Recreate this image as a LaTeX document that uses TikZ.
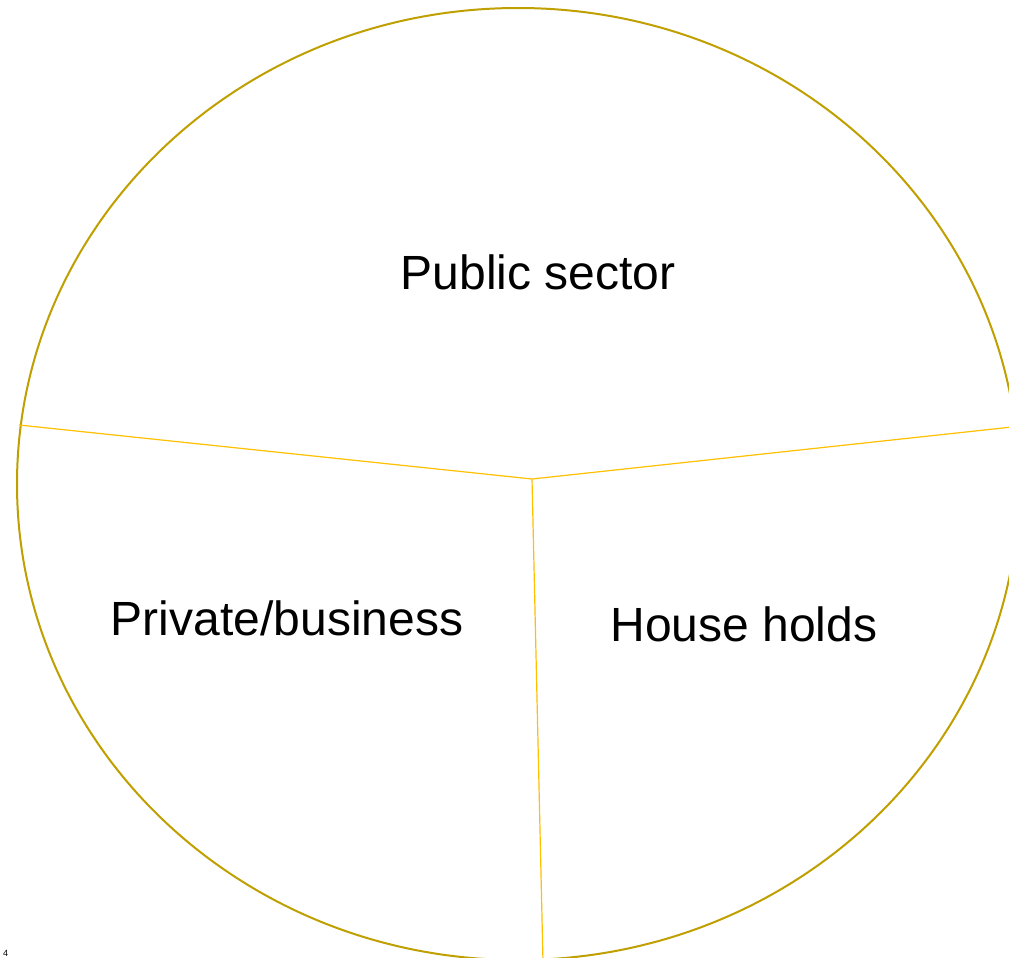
\documentclass[tikz,border=0pt]{standalone}
\usepackage{fontspec}
\setmainfont{Liberation Sans}
\definecolor{rim}{HTML}{BFA000}
\definecolor{divider}{HTML}{FFC000}
\begin{document}
\begin{tikzpicture}[x=1pt,y=-1pt,
  rimline/.style={draw=rim,line width=2pt},
  divline/.style={draw=divider,line width=1.2pt},
  label/.style={font=\fontsize{48}{52}\selectfont,inner sep=0pt}]
\useasboundingbox (0,0) rectangle (1009,958);
\clip (0,0) rectangle (1009,958);
\fill[white] (0,0) rectangle (1009,958);
\draw[rimline] (518,484) ellipse[x radius=501,y radius=476];
\coordinate (c) at (532,479);
\coordinate (l) at (19,425);
\coordinate (r) at (1012,427);
\coordinate (b) at (543,962);
\draw[divline] (l) -- (c) -- (r);
\draw[divline] (c) -- (b);
\node[label] (pub) at (538,272) {Public sector};
\node[label] (priv) at (287,618) {Private/business};
\node[label] (house) at (744,624) {House holds};
\node[font=\fontsize{9}{11}\selectfont,inner sep=0pt,anchor=south west] (pg) at (3,957) {4};
\end{tikzpicture}
\end{document}
